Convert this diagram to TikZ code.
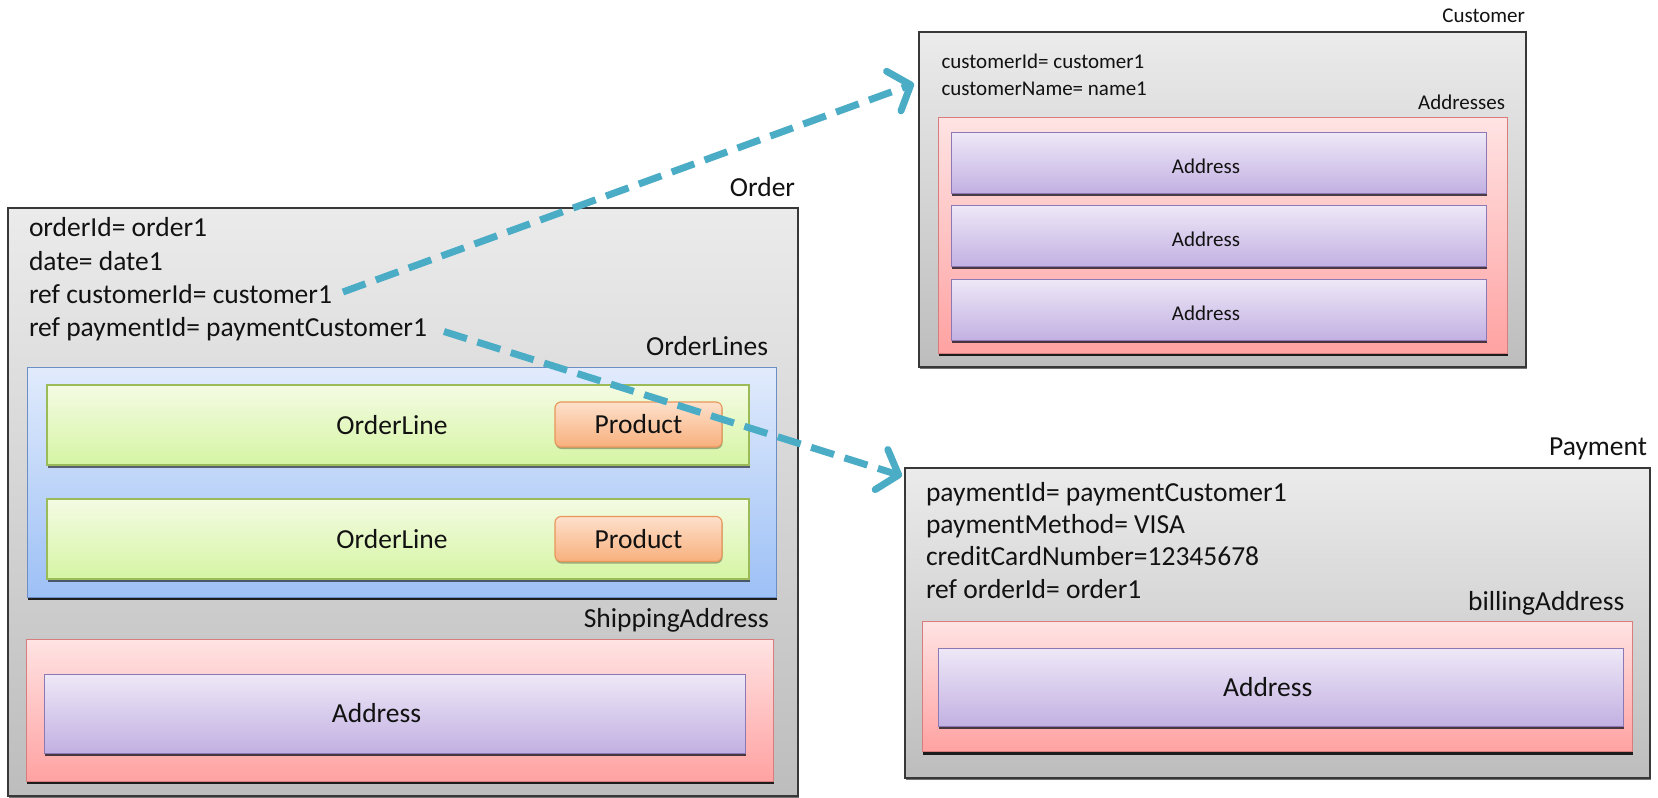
\documentclass[tikz,border=0pt]{standalone}
\usepackage{fontspec}
\setmainfont{Carlito}
\usetikzlibrary{arrows.meta,shadows,calc}

\definecolor{frameGray}{HTML}{383838}
\definecolor{grayTop}{HTML}{EBEBEB}
\definecolor{grayBot}{HTML}{BDBDBD}
\definecolor{blueTop}{HTML}{E1EBFC}
\definecolor{blueBot}{HTML}{9DC0F6}
\definecolor{blueLine}{HTML}{6C8EC6}
\definecolor{greenTop}{HTML}{F4FBE3}
\definecolor{greenBot}{HTML}{D5F5A3}
\definecolor{greenLine}{HTML}{9BBB59}
\definecolor{prodTop}{HTML}{FDE0CB}
\definecolor{prodBot}{HTML}{F8B07D}
\definecolor{prodLine}{HTML}{E8965A}
\definecolor{redTop}{HTML}{FFE3E3}
\definecolor{redBot}{HTML}{FFA2A2}
\definecolor{redLine}{HTML}{D77E7C}
\definecolor{purpTop}{HTML}{EEE8F7}
\definecolor{purpBot}{HTML}{C2B0E2}
\definecolor{purpLine}{HTML}{8B78B5}
\definecolor{linkBlue}{HTML}{4BACC6}
\definecolor{ink}{HTML}{121212}

\tikzset{
  x=1pt, y=-1pt,
  every node/.style={inner sep=0pt, outer sep=0pt, text=ink},
  bigfont/.style={font=\fontsize{27.5}{33}\selectfont},
  smallfont/.style={font=\fontsize{21}{25}\selectfont},
  boxbase/.style={anchor=north west, minimum width=#1},
  panel/.style={draw=frameGray, line width=1.6pt, top color=grayTop, bottom color=grayBot,
    drop shadow={shadow xshift=1.2pt, shadow yshift=-1.8pt, fill=black, opacity=0.55}},
  bluebox/.style={draw=blueLine, line width=0.9pt, top color=blueTop, bottom color=blueBot,
    drop shadow={shadow xshift=0.6pt, shadow yshift=-3pt, fill=black, opacity=0.85}},
  greenbox/.style={draw=greenLine, line width=1.1pt, top color=greenTop, bottom color=greenBot,
    drop shadow={shadow xshift=0.6pt, shadow yshift=-3pt, fill=black, opacity=0.55}},
  prodbox/.style={draw=prodLine, line width=1.1pt, rounded corners=6pt, top color=prodTop, bottom color=prodBot,
    drop shadow={shadow xshift=0.5pt, shadow yshift=-2pt, fill=black, opacity=0.3}},
  redbox/.style={draw=redLine, line width=1pt, top color=redTop, bottom color=redBot,
    drop shadow={shadow xshift=0.6pt, shadow yshift=-3pt, fill=black, opacity=0.85}},
  purpbox/.style={draw=purpLine, line width=1pt, top color=purpTop, bottom color=purpBot,
    drop shadow={shadow xshift=0.6pt, shadow yshift=-2.5pt, fill=black!80!purpLine, opacity=0.8}},
  attr/.style={anchor=base west},
  caption/.style={anchor=base east},
  link/.style={draw=linkBlue, line width=7pt, dash pattern=on 24pt off 11pt,
    -{Straight Barb[length=18pt, width=42pt, line width=7pt, round]}},
}

\begin{document}
\begin{tikzpicture}
\useasboundingbox[fill=white] (0,0) rectangle (1658,798);

% ---------------- Order ----------------
\node[panel, boxbase=790pt, minimum height=588pt] (order) at (8,208) {};
\node[caption, bigfont] (orderT) at (795,196) {Order};
\node[attr, bigfont] (oid)     at (29,236.7) {orderId= order1};
\node[attr, bigfont] (odate)   at (29,270)   {date= date1};
\node[attr, bigfont] (refcust) at (29,303)   {ref customerId= customer1};
\node[attr, bigfont] (refpay)  at (29,336.5) {ref paymentId= paymentCustomer1};

\node[caption, bigfont] (linesT) at (768,355) {OrderLines};
\node[bluebox, boxbase=749pt, minimum height=230pt] (lines) at (27,367) {};

\node[greenbox, boxbase=702pt, minimum height=80pt] (line1) at (47,385) {};
\node[bigfont] (line1T) at ($(line1.center)+(-6,0)$) {OrderLine};
\node[prodbox, boxbase=167pt, minimum height=45pt, bigfont] (prod1) at (555,402) {Product};

\node[greenbox, boxbase=702pt, minimum height=80pt] (line2) at (47,499) {};
\node[bigfont] (line2T) at ($(line2.center)+(-6,0)$) {OrderLine};
\node[prodbox, boxbase=167pt, minimum height=45pt, bigfont] (prod2) at (555,516.5) {Product};

\node[caption, bigfont] (shipT) at (769,627) {ShippingAddress};
\node[redbox, boxbase=747pt, minimum height=142pt] (ship) at (26,639) {};
\node[purpbox, boxbase=701pt, minimum height=79pt] (shipAddr) at (44,674) {};
\node[bigfont] (shipAddrT) at ($(shipAddr.center)+(-18,0)$) {Address};

% ---------------- Customer ----------------
\node[panel, boxbase=607pt, minimum height=335pt] (customer) at (919,31.7) {};
\node[caption, smallfont] (customerT) at (1525,22.7) {Customer};
\node[attr, smallfont] (cid)   at (941.5,68.3) {customerId= customer1};
\node[attr, smallfont] (cname) at (941.5,95)   {customerName= name1};
\node[caption, smallfont] (addrsT) at (1505,109.3) {Addresses};
\node[redbox, boxbase=568.6pt, minimum height=235.6pt] (addrs) at (938.4,117.7) {};
\node[purpbox, boxbase=535pt, minimum height=60.6pt] (addr1) at (951.4,132.7) {};
\node[smallfont] (addr1T) at ($(addr1.center)+(-13,3)$) {Address};
\node[purpbox, boxbase=535pt, minimum height=61.7pt] (addr2) at (951.4,205) {};
\node[smallfont] (addr2T) at ($(addr2.center)+(-13,3)$) {Address};
\node[purpbox, boxbase=535pt, minimum height=61.7pt] (addr3) at (951.4,279) {};
\node[smallfont] (addr3T) at ($(addr3.center)+(-13,3)$) {Address};

% ---------------- Payment ----------------
\node[panel, boxbase=745pt, minimum height=310pt] (payment) at (905,468) {};
\node[caption, bigfont] (paymentT) at (1647,455) {Payment};
\node[attr, bigfont] (pid)    at (926,501.7) {paymentId= paymentCustomer1};
\node[attr, bigfont] (pmeth)  at (926,533.3) {paymentMethod= VISA};
\node[attr, bigfont] (pcard)  at (926,565)   {creditCardNumber=12345678};
\node[attr, bigfont] (porder) at (926,598.3) {ref orderId= order1};
\node[caption, bigfont] (billT) at (1624.4,610) {billingAddress};
\node[redbox, boxbase=710pt, minimum height=130pt] (bill) at (922.7,621.7) {};
\node[purpbox, boxbase=684.4pt, minimum height=78.4pt] (billAddr) at (938.6,648.3) {};
\node[bigfont] (billAddrT) at ($(billAddr.center)+(-13,0)$) {Address};

% ---------------- References ----------------
\coordinate (custIn) at ($(customer.north west)+(-5,52)$);
\coordinate (payIn)  at ($(payment.north west)+(-3,8)$);
\draw[link] ($(refcust.base east)+(11,-11)$) -- (custIn);
\draw[link] ($(refpay.base east)+(17,-5)$) -- (payIn);
\end{tikzpicture}
\end{document}
